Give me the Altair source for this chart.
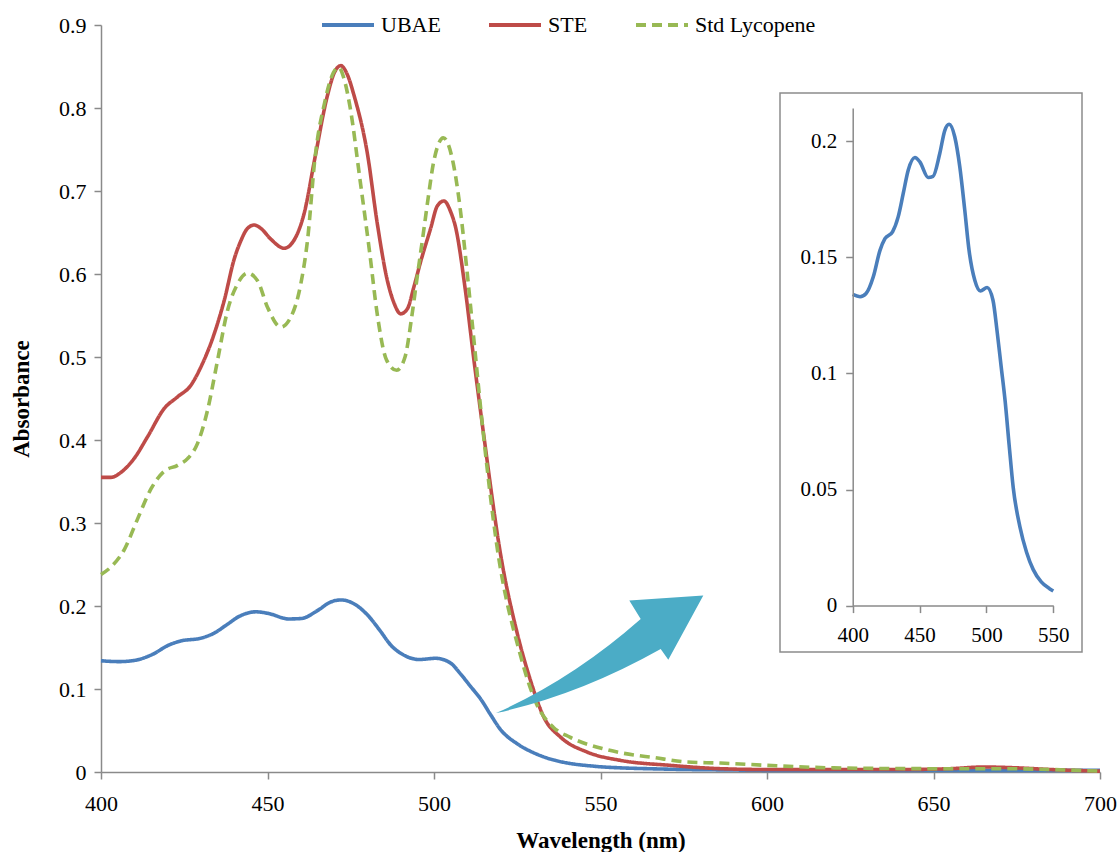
import altair as alt
import pandas as pd

# ---------------- data ----------------
series_names = ["UBAE", "STE", "Std Lycopene"]

ubae_wl = [400, 405.5, 410, 415.4, 420.4, 424.1, 429.8, 434, 437.8, 441.5, 446.5, 450.2,
           456.4, 460.1, 465.1, 468.9, 472.1, 476.3, 480.1, 483.8, 487, 491.3, 495.5,
           500.5, 504.9, 508, 511, 514, 517, 520, 525, 530, 535, 541, 547.2, 550,
           556, 566, 576, 588, 600, 625, 650, 675, 700]
ubae_abs = [0.134, 0.133, 0.1344, 0.1416, 0.153, 0.158, 0.161, 0.1674, 0.1775, 0.1875, 0.193,
            0.1911, 0.1844, 0.1849, 0.1947, 0.2047, 0.2073, 0.2019, 0.1889, 0.1703, 0.153,
            0.1401, 0.1355, 0.137, 0.1315, 0.118, 0.103, 0.088, 0.069, 0.051, 0.034, 0.023,
            0.0155, 0.0102, 0.0073, 0.0063, 0.005, 0.0038, 0.003, 0.0025, 0.002, 0.002, 0.002,
            0.002, 0.002]

ste_wl = [400, 403, 406, 410, 414, 419, 423, 427, 430, 434, 437, 440, 442, 444, 446, 448, 451,
          455, 458, 461, 464.3, 468, 470, 472, 474, 476, 480, 483, 486, 488, 490, 492, 494,
          496, 499, 501, 503, 505, 506.5, 509.3, 512, 515, 520, 525, 529, 533, 538, 546, 556,
          571, 586, 600, 620, 640, 655, 665, 675, 685, 700]
ste_abs = [0.355, 0.355, 0.361, 0.378, 0.404, 0.438, 0.452, 0.466, 0.488, 0.528, 0.568, 0.618,
           0.640, 0.655, 0.659, 0.655, 0.642, 0.631, 0.641, 0.673, 0.741, 0.815, 0.842, 0.851,
           0.840, 0.815, 0.745, 0.660, 0.592, 0.565, 0.552, 0.558, 0.585, 0.615, 0.655, 0.682,
           0.688, 0.675, 0.656, 0.584, 0.496, 0.404, 0.262, 0.167, 0.110, 0.066, 0.042, 0.024,
           0.014, 0.008, 0.004, 0.003, 0.003, 0.003, 0.004, 0.006, 0.005, 0.003, 0.001]

lyc_wl = [400, 403, 407, 411, 415, 419, 423, 426, 429, 432, 435, 438, 441, 444, 447, 450, 454,
          457, 460, 462, 464.3, 467.3, 469, 471.3, 473, 474.8, 477.8, 480.8, 482.8, 485.8,
          488.8, 491.3, 493.3, 494.8, 496.8, 498.3, 499.8, 502.8, 505.8, 507.8, 509.8, 511.8,
          514.8, 518.8, 525.8, 530.8, 535.8, 540.8, 550.8, 560.9, 565, 576, 586, 600, 620,
          650, 670, 685, 700]
lyc_abs = [0.238, 0.247, 0.268, 0.305, 0.341, 0.3625, 0.3695, 0.3776, 0.396, 0.436, 0.496,
           0.556, 0.588, 0.601, 0.592, 0.560, 0.536, 0.548, 0.588, 0.640, 0.741, 0.809, 0.835,
           0.849, 0.835, 0.801, 0.713, 0.622, 0.556, 0.496, 0.484, 0.500, 0.548, 0.592, 0.649,
           0.693, 0.733, 0.764, 0.733, 0.681, 0.608, 0.528, 0.408, 0.275, 0.143, 0.082, 0.054,
           0.042, 0.028, 0.020, 0.018, 0.012, 0.0108, 0.008, 0.005, 0.004, 0.004, 0.003, 0.001]

x_ticks = [400, 450, 500, 550, 600, 650, 700]
y_ticks = [0, 0.1, 0.2, 0.3, 0.4, 0.5, 0.6, 0.7, 0.8, 0.9]
inset_x_ticks = [400, 450, 500, 550]
inset_y_ticks = [0, 0.05, 0.1, 0.15, 0.2]

# ---------------- styling ----------------
colors = ["#4A7EBB", "#BE4B48", "#98B954"]
dashes = [[1, 0], [1, 0], [10, 6]]
FONT = "Liberation Serif"
AXIS_GRAY = "#8A8A8A"
ARROW = ("M -10.45 5.78 Q -2.8 2.4 4.02 -3.62 L 2.88 -5.48 L 10.28 -5.98 "
         "L 6.78 0.45 L 6.02 -0.62 Q -2.2 4.0 -10.45 5.78 Z")

rows = []
for name, wls, vals in [("UBAE", ubae_wl, ubae_abs), ("STE", ste_wl, ste_abs),
                        ("Std Lycopene", lyc_wl, lyc_abs)]:
    for w, v in zip(wls, vals):
        rows.append({"series": name, "wl": w, "abs": v})
df = pd.DataFrame(rows)
df_inset = pd.DataFrame({"wl": ubae_wl, "abs": ubae_abs})
df_inset = df_inset[df_inset["wl"] <= 550]

axis_common = dict(domainColor=AXIS_GRAY, tickColor=AXIS_GRAY, domainWidth=1.5, tickWidth=1.5,
                   tickSize=7, grid=False, labelFont=FONT, labelFontSize=22, labelColor="black",
                   labelFlush=False, labelOverlap=False,
                   titleFont=FONT, titleFontSize=23, titleFontWeight="bold", titleColor="black")

legend_cfg = alt.Legend(title=None, orient="none", legendX=219, legendY=-28,
                        direction="horizontal", columns=3, symbolType="stroke",
                        symbolSize=2704, symbolStrokeWidth=4, labelFont=FONT,
                        labelFontSize=22, labelColor="black", labelOffset=5,
                        columnPadding=40, padding=0)

lines = alt.Chart(df).mark_line(strokeWidth=3.6, interpolate="monotone").encode(
    x=alt.X("wl:Q", scale=alt.Scale(domain=[400, 700], nice=False, zero=False),
            axis=alt.Axis(values=x_ticks, title="Wavelength (nm)", labelPadding=14,
                          titlePadding=15, **axis_common)),
    y=alt.Y("abs:Q", scale=alt.Scale(domain=[0, 0.9], nice=False),
            axis=alt.Axis(values=y_ticks, format="~g", title="Absorbance", labelPadding=8,
                          titlePadding=25, **axis_common)),
    color=alt.Color("series:N", scale=alt.Scale(domain=series_names, range=colors),
                    legend=legend_cfg),
    strokeDash=alt.StrokeDash("series:N", scale=alt.Scale(domain=series_names, range=dashes),
                              legend=legend_cfg),
)

arrow = alt.Chart(pd.DataFrame({"k": [0]})).mark_point(
    shape=ARROW, filled=True, size=400, opacity=1, color="#4BACC6", strokeWidth=0
).encode(x=alt.datum(550), y=alt.datum(0.1406))

main = alt.layer(lines, arrow)

frame = alt.Chart(pd.DataFrame({"k": [0]})).mark_rect(
    fill="white", stroke="#8C8C8C", strokeWidth=1.5
).encode(x=alt.value(679), x2=alt.value(981), y=alt.value(68), y2=alt.value(627))

inset_axis = dict(axis_common)
inset_axis["labelFontSize"] = 21
inset = alt.Chart(df_inset).mark_line(color="#4A7EBB", strokeWidth=3.6,
                                      interpolate="monotone").encode(
    x=alt.X("wl:Q", scale=alt.Scale(domain=[400, 550], range=[751.7, 952.3], nice=False,
                                    zero=False),
            axis=alt.Axis(orient="bottom", offset=-166.4, values=inset_x_ticks, title=None,
                          labelPadding=12, zindex=2, **inset_axis)),
    y=alt.Y("abs:Q", scale=alt.Scale(domain=[0, 0.2143], range=[580.6, 83], nice=False),
            axis=alt.Axis(orient="left", offset=-751.7, values=inset_y_ticks, format="~g",
                          title=None, labelPadding=9, zindex=2, **inset_axis)),
)

chart = alt.layer(main, frame, inset).resolve_scale(
    x="independent", y="independent"
).properties(
    width=999, height=747,
    autosize=alt.AutoSizeParams(type="none"),
    padding={"left": 101, "top": 25, "right": 18, "bottom": 80},
    background="white",
).configure_view(stroke=None)

chart.save("out.html", embed_options={"renderer": "svg", "actions": False})
